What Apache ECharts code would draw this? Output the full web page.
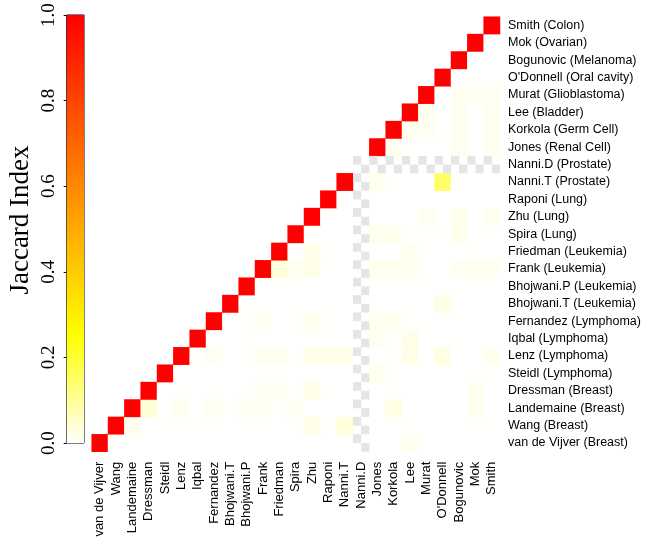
<!DOCTYPE html>
<html>
<head>
<meta charset="utf-8">
<script src="https://cdn.jsdelivr.net/npm/echarts@6/dist/echarts.min.js"></script>
<style>
  html, body { margin: 0; padding: 0; background: #fff; }
  #main { width: 648px; height: 540px; }
</style>
</head>
<body>
<div id="main"></div>
<script>
// studies, bottom (index 0) to top / left to right
var studies = ['van de Vijver', 'Wang', 'Landemaine', 'Dressman', 'Steidl', 'Lenz', 'Iqbal',
  'Fernandez', 'Bhojwani.T', 'Bhojwani.P', 'Frank', 'Friedman', 'Spira', 'Zhu', 'Raponi',
  'Nanni.T', 'Nanni.D', 'Jones', 'Korkola', 'Lee', 'Murat', "O'Donnell", 'Bogunovic', 'Mok', 'Smith'];
var tissues = ['Breast', 'Breast', 'Breast', 'Breast', 'Lymphoma', 'Lymphoma', 'Lymphoma',
  'Lymphoma', 'Leukemia', 'Leukemia', 'Leukemia', 'Leukemia', 'Lung', 'Lung', 'Lung',
  'Prostate', 'Prostate', 'Renal Cell', 'Germ Cell', 'Bladder', 'Glioblastoma', 'Oral cavity',
  'Melanoma', 'Ovarian', 'Colon'];

// study with no data (drawn as NA pattern)
var naStudy = 'Nanni.D';

// self overlap on the diagonal
var diagValue = 1.0;

// non-zero overlaps above the diagonal: [column, row, jaccard]
var overlaps = [
  [19, 0, 0.015],
  [2, 1, 0.015], [13, 1, 0.02], [15, 1, 0.035],
  [3, 2, 0.04], [5, 2, 0.012], [7, 2, 0.012], [9, 2, 0.012], [10, 2, 0.012], [12, 2, 0.01],
  [18, 2, 0.025], [23, 2, 0.015],
  [10, 3, 0.012], [11, 3, 0.012], [13, 3, 0.02], [23, 3, 0.015],
  [17, 4, 0.015],
  [7, 5, 0.012], [10, 5, 0.012], [11, 5, 0.012], [13, 5, 0.02], [14, 5, 0.02], [15, 5, 0.02],
  [19, 5, 0.02], [21, 5, 0.03], [24, 5, 0.015],
  [17, 6, 0.012], [19, 6, 0.02],
  [10, 7, 0.012], [13, 7, 0.015], [17, 7, 0.015], [18, 7, 0.015],
  [21, 8, 0.025],
  [11, 10, 0.035], [12, 10, 0.012], [13, 10, 0.02], [17, 10, 0.015], [18, 10, 0.015],
  [19, 10, 0.015], [22, 10, 0.012], [23, 10, 0.012], [24, 10, 0.012],
  [13, 11, 0.02], [19, 11, 0.015],
  [17, 12, 0.015], [18, 12, 0.015], [22, 12, 0.015],
  [20, 13, 0.012], [22, 13, 0.015], [24, 13, 0.012],
  [17, 15, 0.015], [21, 15, 0.15],
  [18, 17, 0.012], [22, 17, 0.012], [24, 17, 0.012],
  [19, 18, 0.012], [20, 18, 0.012], [22, 18, 0.012], [24, 18, 0.012],
  [20, 19, 0.012], [22, 19, 0.012], [24, 19, 0.012],
  [22, 20, 0.012], [23, 20, 0.012], [24, 20, 0.012]
];

var colorbarTicks = [0, 0.2, 0.4, 0.6, 0.8, 1.0];

// reversed heat colours: white -> yellow (0.25) -> red
var heatStops = ['#FFFFFD', '#FFFF00', '#FFAA00', '#FF5500', '#FF0000'];

var rowLabels = studies.map(function (s, i) { return s + ' (' + tissues[i] + ')'; });
var naIdx = studies.indexOf(naStudy);

var lookup = {};
overlaps.forEach(function (o) { lookup[o[0] + '_' + o[1]] = o[2]; });

var heatData = [];
var naData = [];
for (var r = 0; r < studies.length; r++) {
  for (var c = r; c < studies.length; c++) {
    if (r === naIdx || c === naIdx) {
      naData.push([c, r]);
    } else if (c === r) {
      heatData.push([c, r, diagValue]);
    } else {
      heatData.push([c, r, lookup[c + '_' + r] || 0]);
    }
  }
}

var chart = echarts.init(document.getElementById('main'));

var option = {
  backgroundColor: '#fff',
  animation: false,
  grid: [
    { left: 91.7, top: 16.7, width: 408.3, height: 435 },
    { left: 66.7, top: 15, width: 17.3, height: 428, show: true, borderColor: '#000', borderWidth: 1, backgroundColor: 'transparent' }
  ],
  xAxis: [{
    type: 'category',
    gridIndex: 0,
    data: studies,
    axisLine: { show: false },
    axisTick: { show: false },
    splitLine: { show: false },
    axisLabel: {
      interval: 0, rotate: 90, margin: 10,
      color: '#000', fontSize: 13, fontFamily: 'Liberation Sans'
    }
  }, {
    type: 'category',
    gridIndex: 1,
    data: [''],
    show: false
  }],
  yAxis: [{
    type: 'category',
    gridIndex: 0,
    position: 'right',
    data: rowLabels,
    axisLine: { show: false },
    axisTick: { show: false },
    splitLine: { show: false },
    axisLabel: {
      interval: 0, margin: 8,
      color: '#000', fontSize: 12.5, fontFamily: 'Liberation Sans'
    }
  }, {
    type: 'value',
    gridIndex: 1,
    position: 'left',
    min: 0, max: 1, interval: 0.2,
    axisLine: { show: false },
    axisTick: { show: true, length: 3, lineStyle: { color: '#000' } },
    splitLine: { show: false },
    axisLabel: {
      rotate: 90, margin: 8,
      color: '#000', fontSize: 19, fontFamily: 'Liberation Serif',
      formatter: function (v) { return v.toFixed(1); },
      customValues: colorbarTicks
    }
  }],
  visualMap: {
    type: 'continuous',
    show: false,
    min: 0, max: 1,
    seriesIndex: 0,
    inRange: { color: heatStops }
  },
  graphic: [{
    type: 'text',
    x: 21, y: 220,
    rotation: Math.PI / 2,
    style: {
      text: 'Jaccard Index',
      font: '27px "Liberation Serif"',
      fill: '#000',
      textAlign: 'center',
      textVerticalAlign: 'middle'
    }
  }],
  series: [{
    type: 'heatmap',
    xAxisIndex: 0, yAxisIndex: 0,
    data: heatData,
    emphasis: { disabled: true }
  }, {
    type: 'custom',
    xAxisIndex: 0, yAxisIndex: 0,
    data: naData,
    silent: true,
    renderItem: function (params, api) {
      var p = api.coord([api.value(0), api.value(1)]);
      var s = api.size([1, 1]);
      var hw = s[0] / 2, hh = s[1] / 2;
      return {
        type: 'group',
        children: [
          { type: 'rect', shape: { x: p[0] - hw, y: p[1] - hh, width: hw, height: hh }, style: { fill: '#E5E5E5' } },
          { type: 'rect', shape: { x: p[0], y: p[1], width: hw, height: hh }, style: { fill: '#E5E5E5' } }
        ]
      };
    }
  }, {
    type: 'bar',
    xAxisIndex: 1, yAxisIndex: 1,
    data: [1],
    barWidth: '100%',
    silent: true,
    itemStyle: {
      color: new echarts.graphic.LinearGradient(0, 1, 0, 0, heatStops.map(function (col, i) {
        return { offset: i / (heatStops.length - 1), color: col };
      }))
    }
  }]
};

chart.setOption(option);
</script>
</body>
</html>
